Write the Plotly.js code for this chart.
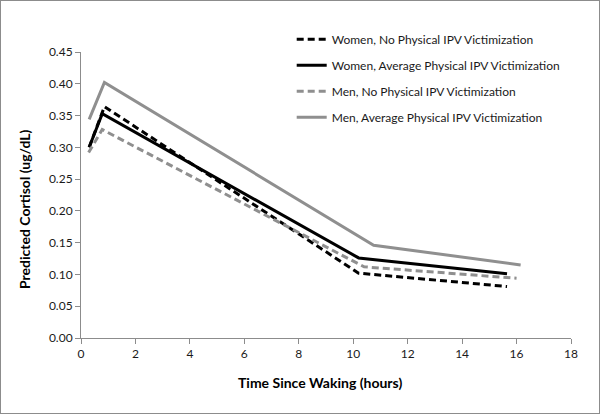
<!DOCTYPE html>
<html><head><meta charset="utf-8">
<script src="https://cdn.plot.ly/plotly-3.0.1.min.js"></script>
<style>html,body{margin:0;padding:0;background:#fff}#c{width:598px;height:412px;border:1px solid #8c8c8c}</style>
</head><body><div id="c"></div>
<script>
const names = ["Women, No Physical IPV Victimization","Women, Average Physical IPV Victimization","Men, No Physical IPV Victimization","Men, Average Physical IPV Victimization"];
const womenNoX = [0.3, 0.86, 10.2, 15.65];
const womenNoY = [0.300, 0.364, 0.102, 0.081];
const womenAvgX = [0.3, 0.78, 10.2, 15.65];
const womenAvgY = [0.300, 0.353, 0.126, 0.101];
const menNoX = [0.28, 0.78, 10.4, 16.0];
const menNoY = [0.292, 0.328, 0.112, 0.094];
const menAvgX = [0.3, 0.86, 10.75, 16.15];
const menAvgY = [0.344, 0.402, 0.146, 0.115];
const xTicks = [0,2,4,6,8,10,12,14,16,18];
const yTicks = [0,0.05,0.10,0.15,0.20,0.25,0.30,0.35,0.40,0.45];

const mk = (x,y,name,color,dash,g)=>({x,y,name,type:'scatter',mode:'lines',legendgroup:g,
  line:{color,width:3,dash}});
const data = [
  mk(womenNoX,womenNoY,names[0],'#000000','7px,4px','a'),
  mk(womenAvgX,womenAvgY,names[1],'#000000','solid','b'),
  mk(menNoX,menNoY,names[2],'#8f8f8f','7px,4px','c'),
  mk(menAvgX,menAvgY,names[3],'#8f8f8f','solid','d')
];
const fam = 'Lato, "Open Sans", sans-serif';
const font = {family:fam, size:12, color:'#1a1a1a'};
const layout = {
  width:598, height:412, margin:{l:80,r:28,t:51,b:75},
  paper_bgcolor:'#fff', plot_bgcolor:'#fff', font,
  showlegend:true,
  legend:{x:0.43,y:1.095,xanchor:'left',yanchor:'top',tracegroupgap:7,itemwidth:30,font:{family:fam,size:12,color:'#1a1a1a'},bgcolor:'rgba(0,0,0,0)'},
  xaxis:{range:[0,18],tickvals:xTicks,ticktext:xTicks.map(String),showgrid:false,zeroline:false,
    showline:true,linecolor:'#8c8c8c',linewidth:1,ticks:'outside',ticklen:5,tickcolor:'#8c8c8c',
    tickfont:{family:fam,size:12,color:'#1a1a1a'}},
  yaxis:{range:[0,0.45],tickvals:yTicks,ticktext:yTicks.map(v=>v.toFixed(2)),showgrid:false,zeroline:false,
    showline:true,linecolor:'#8c8c8c',linewidth:1,ticks:'outside',ticklen:5,tickcolor:'#8c8c8c',
    tickfont:{family:fam,size:12,color:'#1a1a1a'}},
  annotations:[
    {text:'<b>Predicted Cortisol (ug/dL)</b>',textangle:-90,xref:'paper',yref:'paper',
     x:-0.115,y:0.45,xanchor:'center',yanchor:'middle',showarrow:false,font:{family:fam,size:14,color:'#000'}},
    {text:'<b>Time Since Waking (hours)</b>',xref:'paper',yref:'paper',
     x:0.488,y:-0.155,xanchor:'center',yanchor:'middle',showarrow:false,font:{family:fam,size:14,color:'#000'}}
  ]
};
Plotly.newPlot('c',data,layout,{displayModeBar:false});
</script></body></html>
